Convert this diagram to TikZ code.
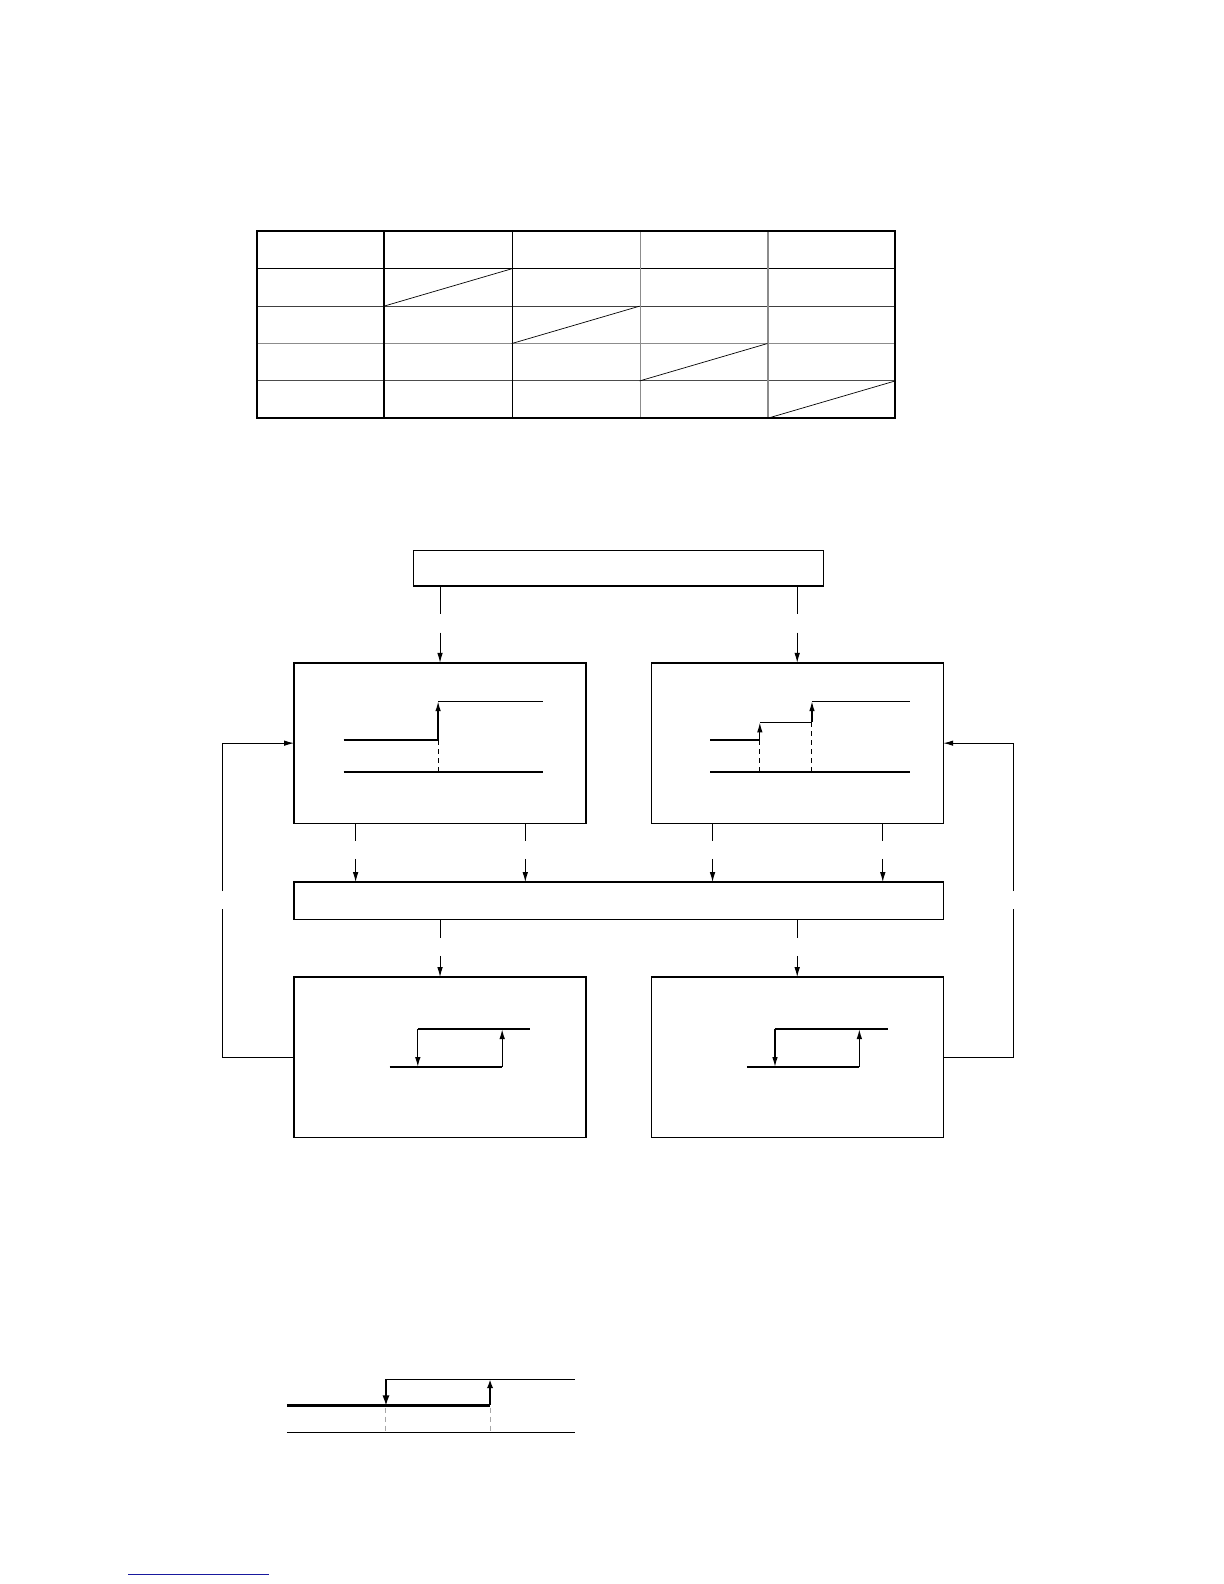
\documentclass[tikz,border=0pt]{standalone}
\usepackage{tikz}
\definecolor{linkblue}{rgb}{0.1,0.1,0.62}
\usetikzlibrary{arrows.meta, positioning, calc}
\tikzstyle{block} = [draw, rectangle, line width=0.7pt, inner sep=0pt, outer sep=0pt, minimum width=146pt, minimum height=80.3pt]
\tikzstyle{bar} = [draw, rectangle, line width=0.7pt, inner sep=0pt, outer sep=0pt, minimum height=18.7pt]
\tikzstyle{arrow} = [-{Latex[length=5pt,width=2.8pt]}, line width=0.5pt]
\tikzstyle{wave} = [line width=0.65pt]
\tikzstyle{wavearrow} = [wave, -{Latex[length=5pt,width=2.8pt]}]
\tikzstyle{guide} = [line width=0.5pt, dash pattern=on 2.5pt off 2pt]
\tikzset{gaparrow/.style={arrow, dash pattern=on #1 off 9.1pt on 60pt off 10pt}}

\begin{document}
\begin{tikzpicture}[x=0.5052pt, y=-0.5052pt]
    \useasboundingbox (0pt,0pt) rectangle (612pt,-792pt);

    % The table
    \draw [line width=0.5pt] (254,266) -- (886,266);
    \draw [line width=0.5pt, black!75] (254,303) -- (886,303);
    \draw [line width=0.5pt, black!45] (254,340) -- (886,340);
    \draw [line width=0.5pt, black!70] (254,377) -- (886,377);
    \draw [line width=0.6pt] (507,229) -- (507,414);
    \draw [line width=0.6pt, black!45] (634,229) -- (634,414);
    \draw [line width=0.6pt, black!45] (760,229) -- (760,414);
    \draw [line width=0.9pt] (380,229) -- (380,414);
    \draw [line width=0.9pt] (254,229) rectangle (886,414);
    \foreach \i in {0,...,3}
        \draw [line width=0.35pt] ({380+126.5*\i},{303+37*\i}) -- ({506.5+126.5*\i},{266+37*\i});

    % Place the blocks
    \node [bar, minimum width=205.1pt, minimum height=17.7pt] (source) at (612,562.5) {};
    \node [block] (stepL) at (435.5,735.5) {};
    \node [block] (stepR) at (789,735.5) {};
    \node [bar, minimum width=324.8pt] (bus) at (612.5,891.5) {};
    \node [block] (hystL) at (435.5,1046.5) {};
    \node [block] (hystR) at (789,1046.5) {};

    % Connect the blocks
    \draw [gaparrow=14.2pt] (source.south -| stepL.north) -- (stepL.north);
    \draw [gaparrow=14.2pt] (source.south -| stepR.north) -- (stepR.north);
    \coordinate (tapA) at ($(stepL.south west)!0.211!(stepL.south east)$);
    \coordinate (tapB) at ($(stepL.south west)!0.792!(stepL.south east)$);
    \coordinate (tapC) at ($(stepR.south west)!0.21!(stepR.south east)$);
    \coordinate (tapD) at ($(stepR.south west)!0.793!(stepR.south east)$);
    \foreach \t in {tapA, tapB, tapC, tapD}
        \draw [gaparrow=8.6pt] (\t) -- (\t |- bus.north);
    \draw [gaparrow=9.1pt] (bus.south -| hystL.north) -- (hystL.north);
    \draw [gaparrow=9.1pt] (bus.south -| hystR.north) -- (hystR.north);

    % Feedback loops
    \draw [arrow, dash pattern=on 109.9pt off 9.1pt on 300pt off 10pt] (hystL.west) -- ++(-71,0) |- (stepL.west);
    \draw [arrow, dash pattern=on 109.4pt off 9.1pt on 300pt off 10pt] (hystR.east) -- ++(70,0) |- (stepR.east);

    % Step in the left block
    \draw [wave] (340,764) -- (537.5,764);
    \draw [wave] (340,732.5) -- (433.6,732.5);
    \draw [wavearrow] (433.6,732.5) -- (433.6,694);
    \draw [wave] (433.6,694) -- (537.5,694);
    \draw [guide] (433.6,732.5) -- (433.6,764);

    % Two steps in the right block
    \draw [wave] (703,764) -- (901,764);
    \draw [wave] (703,732.5) -- (752,732.5);
    \draw [wavearrow] (752,732.5) -- (752,715);
    \draw [wave] (752,715) -- (803.6,715);
    \draw [wavearrow] (803.6,715) -- (803.6,694);
    \draw [wave] (803.6,694) -- (901,694);
    \draw [guide] (752,732.5) -- (752,764);
    \draw [guide] (803.6,715) -- (803.6,764);

    % Hysteresis loops
    \foreach \dx in {0,353.5} {
        \draw [wave] ({385.6+\dx},1056) -- ({497+\dx},1056);
        \draw [wavearrow] ({497+\dx},1056) -- ({497+\dx},1018.5);
        \draw [wave] ({413.5+\dx},1018.5) -- ({525+\dx},1018.5);
        \draw [wavearrow] ({413.5+\dx},1018.5) -- ({413.5+\dx},1056);
    }

    % Loop below
    \draw [line width=0.55pt] (284,1418) -- (569,1418);
    \draw [line width=1.2pt] (284,1391) -- (485,1391);
    \draw [line width=1.2pt, -{Latex[length=4.5pt,width=3.2pt]}] (485,1391) -- (485,1365);
    \draw [line width=0.6pt] (382,1365) -- (569,1365);
    \draw [line width=0.6pt, -{Latex[length=5pt,width=3.5pt]}] (382,1365) -- (382,1391);
    \draw [guide, black!35] (382,1393) -- (382,1418);
    \draw [guide, black!35] (485,1393) -- (485,1418);

    \draw [linkblue, line width=0.7pt] (127,1558) -- (266,1558);
\end{tikzpicture}
\end{document}
